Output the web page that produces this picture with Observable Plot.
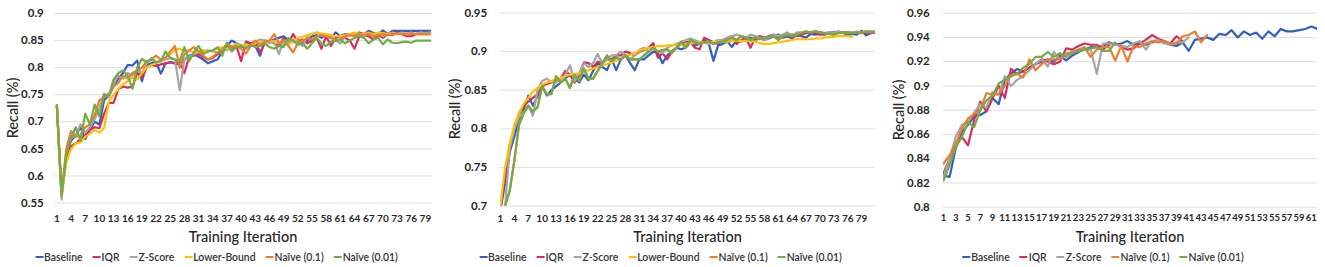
<!DOCTYPE html>
<html><head><meta charset="utf-8">
<script src="https://cdn.jsdelivr.net/npm/d3@7"></script>
<script src="https://cdn.jsdelivr.net/npm/@observablehq/plot@0.6"></script>
<style>
body{margin:0;background:#fff;font-family:Lato,"Open Sans",sans-serif;}
#wrap{position:relative;width:1325px;height:267px;overflow:hidden;background:#fff}
.panel{position:absolute;top:0}
.ytitle{position:absolute;transform:translate(-50%,-50%) rotate(-90deg);font-size:14.5px;font-weight:500;color:#262626;white-space:nowrap}
.xtitle{position:absolute;transform:translate(-50%,-50%);font-size:14.5px;font-weight:500;color:#262626;white-space:nowrap}
.legend{position:absolute;transform:translate(-50%,-50%);display:flex;gap:10px;font-size:10.4px;font-weight:600;color:#333;white-space:nowrap}
.item{display:flex;align-items:center}
.sw{width:8px;height:2px;margin-right:1px}
</style></head>
<body><div id="wrap"></div>
<script>
// ---------- categories / labels ----------
const names = ["Baseline","IQR","Z-Score","Lower-Bound","Naïve (0.1)","Naïve (0.01)"];
const colors = ["#2f5ec4","#d92b5e","#a5a5a5","#ffc000","#ed7d31","#70ad47"];

const xTicks1 = [1,4,7,10,13,16,19,22,25,28,31,34,37,40,43,46,49,52,55,58,61,64,67,70,73,76,79];
const xTicks2 = [1,4,7,10,13,16,19,22,25,28,31,34,37,40,43,46,49,52,55,58,61,64,67,70,73,76,79];
const xTicks3 = [1,3,5,7,9,11,13,15,17,19,21,23,25,27,29,31,33,35,37,39,41,43,45,47,49,51,53,55,57,59,61];
const yTicks1 = [0.55,0.6,0.65,0.7,0.75,0.8,0.85,0.9];
const yTicks2 = [0.7,0.75,0.8,0.85,0.9,0.95];
const yTicks3 = [0.8,0.82,0.84,0.86,0.88,0.9,0.92,0.94,0.96];

// ---------- panel 1 values ----------
const baseline1 = [0.730,0.562,0.640,0.665,0.675,0.690,0.668,0.685,0.700,0.695,
0.740,0.748,0.765,0.780,0.790,0.805,0.804,0.813,0.775,0.805,
0.808,0.810,0.789,0.808,0.810,0.808,0.805,0.815,0.822,0.825,
0.820,0.815,0.808,0.812,0.815,0.830,0.840,0.850,0.845,0.838,
0.842,0.845,0.840,0.822,0.850,0.848,0.852,0.855,0.858,0.850,
0.848,0.852,0.845,0.850,0.858,0.860,0.855,0.860,0.855,0.865,
0.858,0.862,0.860,0.862,0.865,0.862,0.868,0.864,0.862,0.869,
0.862,0.868,0.868,0.868,0.868,0.868,0.868,0.868,0.868,0.868];
const iqr1 = [0.730,0.565,0.630,0.655,0.660,0.668,0.675,0.685,0.690,0.688,
0.715,0.735,0.735,0.760,0.765,0.763,0.765,0.790,0.782,0.800,
0.805,0.803,0.806,0.808,0.810,0.808,0.812,0.790,0.820,0.822,
0.825,0.820,0.815,0.818,0.825,0.830,0.838,0.832,0.840,0.812,
0.848,0.845,0.848,0.828,0.845,0.850,0.845,0.840,0.855,0.845,
0.862,0.848,0.852,0.845,0.850,0.855,0.835,0.858,0.840,0.855,
0.858,0.855,0.850,0.835,0.858,0.860,0.858,0.852,0.860,0.855,
0.862,0.860,0.865,0.862,0.858,0.858,0.862,0.865,0.863,0.865];
const zscore1 = [0.730,0.556,0.645,0.670,0.675,0.695,0.680,0.690,0.705,0.725,
0.752,0.745,0.770,0.785,0.780,0.790,0.785,0.795,0.790,0.808,
0.818,0.810,0.812,0.815,0.818,0.815,0.758,0.815,0.820,0.825,
0.828,0.830,0.832,0.830,0.828,0.835,0.832,0.838,0.845,0.842,
0.840,0.842,0.848,0.852,0.850,0.845,0.848,0.825,0.850,0.848,
0.852,0.850,0.840,0.858,0.862,0.865,0.862,0.860,0.858,0.850,
0.845,0.858,0.860,0.862,0.860,0.862,0.865,0.860,0.862,0.858,
0.862,0.865,0.862,0.865,0.863,0.865,0.862,0.865,0.864,0.865];
const lower1 = [0.730,0.565,0.625,0.650,0.660,0.662,0.672,0.678,0.685,0.680,
0.688,0.738,0.750,0.760,0.770,0.775,0.782,0.778,0.790,0.800,
0.805,0.808,0.815,0.818,0.825,0.833,0.835,0.830,0.832,0.828,
0.830,0.832,0.830,0.832,0.835,0.838,0.835,0.840,0.842,0.840,
0.843,0.840,0.845,0.848,0.845,0.850,0.848,0.845,0.850,0.843,
0.848,0.855,0.857,0.860,0.862,0.865,0.863,0.862,0.860,0.858,
0.858,0.860,0.862,0.865,0.863,0.862,0.864,0.862,0.865,0.864,
0.862,0.863,0.862,0.863,0.862,0.863,0.862,0.861,0.862,0.861];
const naive01_1 = [0.730,0.570,0.650,0.683,0.672,0.675,0.690,0.695,0.712,0.740,
0.745,0.752,0.765,0.772,0.785,0.780,0.790,0.795,0.800,0.812,
0.815,0.822,0.815,0.818,0.830,0.840,0.800,0.825,0.832,0.838,
0.830,0.822,0.815,0.820,0.828,0.832,0.845,0.838,0.840,0.835,
0.826,0.840,0.850,0.842,0.848,0.850,0.862,0.845,0.850,0.840,
0.828,0.845,0.850,0.855,0.852,0.858,0.860,0.858,0.855,0.850,
0.852,0.858,0.860,0.858,0.862,0.860,0.862,0.858,0.860,0.862,
0.860,0.862,0.863,0.862,0.862,0.863,0.862,0.862,0.862,0.862];
const naive001_1 = [0.730,0.564,0.640,0.670,0.690,0.665,0.715,0.695,0.732,0.710,
0.750,0.748,0.778,0.790,0.795,0.785,0.761,0.800,0.816,0.810,
0.815,0.810,0.812,0.830,0.818,0.815,0.812,0.838,0.812,0.828,
0.840,0.825,0.830,0.832,0.838,0.822,0.846,0.830,0.838,0.840,
0.835,0.842,0.838,0.840,0.845,0.838,0.835,0.840,0.838,0.855,
0.850,0.842,0.845,0.835,0.845,0.855,0.845,0.840,0.848,0.850,
0.852,0.845,0.850,0.855,0.858,0.855,0.845,0.852,0.855,0.843,
0.852,0.846,0.845,0.847,0.848,0.846,0.850,0.850,0.850,0.850];

// ---------- panel 2 values ----------
const baseline2 = [0.695,0.730,0.770,0.790,0.812,0.825,0.843,0.830,0.842,0.855,
0.843,0.850,0.855,0.860,0.865,0.870,0.865,0.860,0.870,0.863,
0.875,0.885,0.880,0.876,0.890,0.876,0.890,0.895,0.885,0.876,
0.890,0.890,0.895,0.900,0.898,0.885,0.895,0.900,0.905,0.903,
0.905,0.912,0.908,0.910,0.915,0.910,0.888,0.908,0.910,0.913,
0.906,0.915,0.913,0.915,0.918,0.915,0.917,0.915,0.917,0.920,
0.922,0.918,0.920,0.917,0.922,0.920,0.918,0.923,0.922,0.923,
0.922,0.924,0.925,0.926,0.924,0.922,0.923,0.922,0.927,0.921,
0.924,0.925];
const iqr2 = [0.700,0.740,0.780,0.800,0.820,0.830,0.835,0.840,0.845,0.855,
0.858,0.860,0.862,0.865,0.875,0.870,0.860,0.870,0.886,0.885,
0.880,0.887,0.885,0.890,0.890,0.895,0.895,0.900,0.898,0.895,
0.900,0.902,0.905,0.911,0.892,0.898,0.890,0.900,0.905,0.910,
0.912,0.913,0.905,0.903,0.918,0.915,0.912,0.910,0.915,0.918,
0.920,0.910,0.915,0.918,0.905,0.918,0.920,0.918,0.920,0.922,
0.918,0.922,0.920,0.922,0.920,0.922,0.924,0.925,0.924,0.922,
0.923,0.925,0.924,0.925,0.924,0.925,0.924,0.925,0.924,0.925,
0.924,0.925];
const zscore2 = [0.695,0.700,0.775,0.800,0.815,0.822,0.830,0.817,0.850,0.862,
0.865,0.860,0.860,0.865,0.870,0.882,0.862,0.872,0.885,0.880,
0.885,0.897,0.885,0.890,0.895,0.895,0.900,0.895,0.890,0.895,
0.902,0.905,0.900,0.905,0.900,0.898,0.905,0.908,0.910,0.912,
0.915,0.917,0.915,0.912,0.912,0.910,0.912,0.915,0.915,0.918,
0.920,0.922,0.920,0.918,0.922,0.920,0.918,0.915,0.918,0.922,
0.920,0.922,0.925,0.920,0.925,0.925,0.926,0.925,0.927,0.925,
0.924,0.925,0.924,0.926,0.925,0.924,0.925,0.926,0.925,0.926,
0.925,0.926];
const lower2 = [0.700,0.750,0.780,0.805,0.820,0.832,0.840,0.848,0.853,0.857,
0.860,0.862,0.864,0.866,0.868,0.870,0.871,0.872,0.874,0.876,
0.878,0.880,0.882,0.884,0.886,0.888,0.891,0.894,0.896,0.898,
0.901,0.903,0.905,0.906,0.907,0.907,0.908,0.908,0.909,0.909,
0.910,0.911,0.911,0.912,0.912,0.912,0.912,0.913,0.913,0.913,
0.914,0.914,0.914,0.914,0.914,0.913,0.911,0.910,0.910,0.911,
0.912,0.913,0.914,0.915,0.916,0.916,0.916,0.916,0.917,0.917,
0.918,0.919,0.919,0.920,0.920,0.920,0.919];
const naive001_2 = [0.695,0.700,0.720,0.759,0.805,0.820,0.830,0.822,0.828,0.855,
0.845,0.845,0.868,0.860,0.865,0.853,0.870,0.862,0.878,0.865,
0.865,0.875,0.885,0.895,0.888,0.892,0.890,0.895,0.890,0.890,
0.890,0.895,0.900,0.905,0.900,0.902,0.903,0.898,0.905,0.913,
0.905,0.915,0.912,0.910,0.912,0.913,0.910,0.912,0.913,0.915,
0.918,0.915,0.920,0.918,0.915,0.918,0.916,0.918,0.919,0.920,
0.915,0.920,0.922,0.920,0.922,0.924,0.926,0.925,0.926,0.925,
0.924,0.923,0.922,0.924,0.925,0.925,0.924,0.925,0.925,0.926,
0.926,0.926];
// Naïve (0.1) is not visible in this panel: it lies under Naïve (0.01)
const naive01_2 = naive001_2;

// ---------- panel 3 values ----------
const baseline3 = [0.826,0.825,0.849,0.862,0.868,0.875,0.876,0.879,0.890,0.885,
0.905,0.910,0.914,0.912,0.915,0.918,0.920,0.922,0.920,0.925,
0.921,0.925,0.928,0.930,0.932,0.932,0.933,0.936,0.934,0.935,
0.937,0.934,0.935,0.934,0.936,0.937,0.936,0.934,0.933,0.936,
0.929,0.938,0.939,0.940,0.938,0.943,0.942,0.946,0.940,0.945,
0.942,0.944,0.939,0.945,0.941,0.947,0.945,0.945,0.946,0.947,
0.949,0.947];
const iqr3 = [0.828,0.840,0.850,0.858,0.851,0.872,0.887,0.879,0.890,0.900,
0.890,0.914,0.910,0.912,0.915,0.918,0.922,0.920,0.918,0.920,
0.931,0.930,0.933,0.935,0.934,0.934,0.930,0.934,0.935,0.932,
0.930,0.931,0.935,0.938,0.942,0.939,0.937,0.935,0.941,0.937];
const zscore3 = [0.825,0.840,0.858,0.868,0.870,0.878,0.885,0.882,0.895,0.893,
0.908,0.900,0.905,0.908,0.913,0.918,0.922,0.916,0.928,0.922,
0.927,0.928,0.929,0.930,0.930,0.910,0.935,0.935,0.934,0.933,
0.932,0.935,0.937,0.930,0.937,0.938,0.935,0.934,0.936,0.936,
0.940];
const naive01_3 = [0.836,0.843,0.852,0.865,0.873,0.877,0.880,0.894,0.893,0.893,
0.900,0.909,0.910,0.907,0.922,0.913,0.918,0.922,0.922,0.922,
0.926,0.928,0.930,0.932,0.924,0.930,0.932,0.932,0.921,0.933,
0.920,0.933,0.932,0.935,0.937,0.936,0.937,0.935,0.935,0.941,
0.942,0.945,0.936,0.942];
const naive001_3 = [0.822,0.835,0.850,0.858,0.870,0.866,0.880,0.888,0.892,0.902,
0.905,0.908,0.910,0.915,0.918,0.924,0.924,0.928,0.924,0.927,
0.924,0.927,0.929,0.930,0.931,0.932,0.929,0.929,0.936];

// ---------- layout ----------
const wrap = document.getElementById("wrap");
const fmt = d => String(+d.toFixed(2));

function toRows(list) {
  const rows = [];
  list.forEach(([name, vals]) => vals.forEach((v, k) => rows.push({series: name, i: k + 1, v})));
  return rows;
}

const panels = [
  {left: 0, width: 441, mL: 54, mR: 9, mT: 13, mB: 64.5, xDomain: [0.5, 80.5], yDomain: [0.55, 0.9],
   xTicks: xTicks1, yTicks: yTicks1, xPad: 11.5, yPad: 10.7, xFont: 10, xSpacing: "0px",
   series: [[names[0], baseline1],[names[1], iqr1],[names[2], zscore1],[names[3], lower1],[names[4], naive01_1],[names[5], naive001_1]],
   legend: [0,1,2,3,4,5], legendX: 216.5, yTitleX: 12},
  {left: 441, width: 441, mL: 59, mR: 7, mT: 12.5, mB: 61.5, xDomain: [1, 82], yDomain: [0.7, 0.95],
   xTicks: xTicks2, yTicks: yTicks2, xPad: 9, yPad: 13.3, xFont: 10, xSpacing: "0px",
   series: [[names[0], baseline2],[names[1], iqr2],[names[2], zscore2],[names[3], lower2],[names[4], naive01_2],[names[5], naive001_2]],
   legend: [0,1,2,3,4,5], legendX: 660.5, yTitleX: 454},
  {left: 882, width: 443, mL: 61, mR: 8, mT: 12.7, mB: 60.3, xDomain: [1, 62], yDomain: [0.8, 0.96],
   xTicks: xTicks3, yTicks: yTicks3, xPad: 7.5, yPad: 13.7, xFont: 9.5, xSpacing: "-0.8px",
   series: [[names[0], baseline3],[names[1], iqr3],[names[2], zscore3],[names[4], naive01_3],[names[5], naive001_3]],
   legend: [0,1,2,4,5], legendX: 1103, yTitleX: 897.5}
];

panels.forEach(p => {
  const chart = Plot.plot({
    width: p.width, height: 267,
    marginLeft: p.mL, marginRight: p.mR, marginTop: p.mT, marginBottom: p.mB,
    style: {fontFamily: "Lato, 'Open Sans', sans-serif", background: "transparent", overflow: "visible"},
    x: {domain: p.xDomain, axis: null},
    y: {domain: p.yDomain, axis: null},
    color: {domain: names, range: colors},
    marks: [
      Plot.gridY(p.yTicks, {stroke: "#dedede", strokeOpacity: 1, strokeWidth: 1}),
      Plot.axisY(p.yTicks, {tickSize: 0, tickPadding: p.yPad, tickFormat: fmt, fontSize: 11.5, fontWeight: 700, fill: "#262626", label: null}),
      Plot.axisX(p.xTicks, {tickSize: 0, tickPadding: p.xPad, tickFormat: d => String(d), fontSize: p.xFont, fontWeight: 700, fill: "#262626", label: null, ariaLabel: "xticks"}),
      Plot.line(toRows(p.series), {x: "i", y: "v", z: "series", stroke: "series", strokeWidth: 2.2, strokeLinejoin: "round", clip: true})
    ]
  });
  chart.querySelectorAll('g[aria-label="xticks"] text, g[aria-label="x-axis tick label"] text').forEach(t => {
    t.style.letterSpacing = p.xSpacing;
  });
  const div = document.createElement("div");
  div.className = "panel";
  div.style.left = p.left + "px";
  div.appendChild(chart);
  wrap.appendChild(div);

  const yt = document.createElement("div");
  yt.className = "ytitle";
  yt.textContent = "Recall (%)";
  yt.style.left = p.yTitleX + "px";
  yt.style.top = (p.mT + (267 - p.mB)) / 2 + "px";
  wrap.appendChild(yt);

  const xt = document.createElement("div");
  xt.className = "xtitle";
  xt.textContent = "Training Iteration";
  xt.style.left = (p.left + (p.mL + p.width - p.mR) / 2) + "px";
  xt.style.top = "236px";
  wrap.appendChild(xt);

  const lg = document.createElement("div");
  lg.className = "legend";
  lg.style.left = p.legendX + "px";
  lg.style.top = "257px";
  p.legend.forEach(k => {
    const it = document.createElement("div");
    it.className = "item";
    const sw = document.createElement("span");
    sw.className = "sw";
    sw.style.background = colors[k];
    const tx = document.createElement("span");
    tx.textContent = names[k];
    it.appendChild(sw); it.appendChild(tx);
    lg.appendChild(it);
  });
  wrap.appendChild(lg);
});
</script></body></html>
